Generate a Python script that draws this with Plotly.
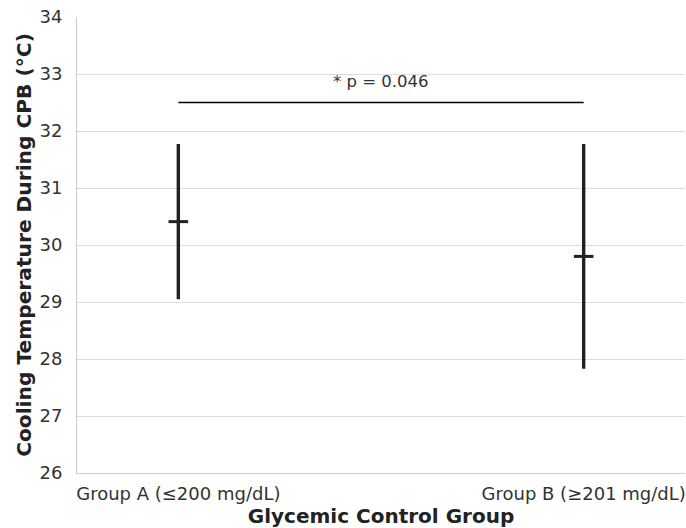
import plotly.graph_objects as go

groups = ["Group A (≤200 mg/dL)", "Group B (≥201 mg/dL)"]
means = [30.41, 29.80]
sds = [1.36, 1.97]
sig_y = 32.5
sig_label = "* p = 0.046"
y_ticks = [26, 27, 28, 29, 30, 31, 32, 33, 34]

FONT = "DejaVu Sans"
DARK = "#222222"

fig = go.Figure()
fig.add_trace(go.Scatter(
    x=groups, y=means,
    mode="markers",
    marker=dict(symbol="line-ew", size=14, color=DARK, line=dict(color=DARK, width=3)),
    error_y=dict(type="data", array=sds, visible=True, color=DARK, thickness=3.4, width=0),
    showlegend=False, hoverinfo="skip",
))

# significance bracket line
fig.add_trace(go.Scatter(
    x=groups, y=[sig_y, sig_y], mode="lines",
    line=dict(color="black", width=1.6), showlegend=False, hoverinfo="skip",
))

fig.add_annotation(
    x=0.5, xref="x", y=sig_y + 0.36, yref="y", text=sig_label,
    showarrow=False, yanchor="middle", xanchor="center",
    font=dict(family=FONT, size=16.5, color="#333333"),
)

fig.update_layout(
    width=686, height=528,
    margin=dict(l=77, r=1, t=17, b=55),
    paper_bgcolor="white", plot_bgcolor="white",
    font=dict(family=FONT, size=18, color="#333333"),
    xaxis=dict(
        type="category", range=[-0.25, 1.25],
        showgrid=False, zeroline=False,
        showline=True, linecolor="#cccccc", linewidth=1,
        ticks="", ticklabelstandoff=4,
        tickfont=dict(family=FONT, size=18, color="#333333"),
        title=dict(text="<b>Glycemic Control Group</b>", font=dict(family=FONT, size=20, color="#222222"), standoff=4),
    ),
    yaxis=dict(
        range=[26, 34], tickvals=y_ticks,
        showgrid=True, gridcolor="#dddddd", gridwidth=1,
        zeroline=False,
        showline=True, linecolor="#cccccc", linewidth=1,
        ticks="", ticklabelstandoff=10,
        tickfont=dict(family=FONT, size=18, color="#333333"),
        title=dict(text="<b>Cooling Temperature During CPB (°C)</b>", font=dict(family=FONT, size=20.2, color="#222222"), standoff=2),
    ),
)

fig.write_html("out.html")
